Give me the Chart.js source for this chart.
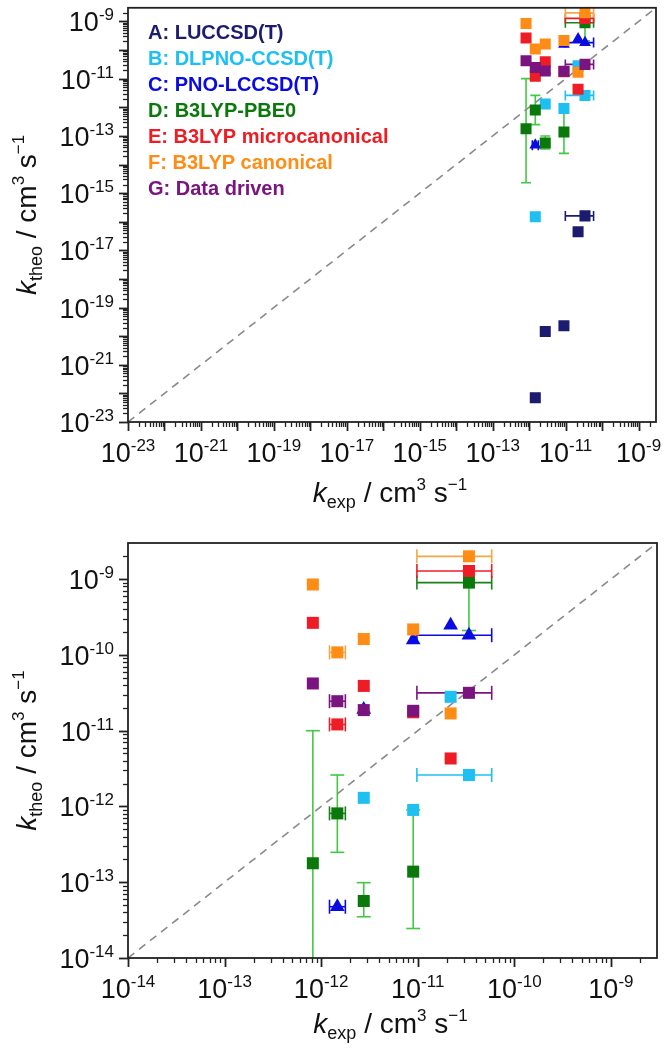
<!DOCTYPE html>
<html>
<head>
<meta charset="utf-8">
<script src="https://cdn.jsdelivr.net/npm/chart.js@4/dist/chart.umd.min.js"></script>
<style>
  html, body { margin: 0; padding: 0; background: #fff; }
  canvas { position: absolute; left: 0; }
  #c1 { top: 0; }
  #c2 { top: 530px; }
</style>
</head>
<body>
<canvas id="c1" width="666" height="530"></canvas>
<canvas id="c2" width="666" height="522"></canvas>
<script>
// experimental rate constants (one per reaction) and their ranges
const kexp     = [8.2e-13, 1.47e-12, 2.76e-12, 8.97e-12, 2.19e-11, 3.39e-11]
const kexpLow  = [null, 1.22e-12, null, null, null, 9.8e-12]
const kexpHigh = [null, 1.78e-12, null, null, null, 5.83e-11]

// theoretical rate constants per method (null = not computed)
const luccsd     = [null, 7e-23, 1.45e-20, 2.3e-20, 4.5e-17, 1.6e-16]
const dlpno      = [null, 1.5e-16, 1.3e-12, 9.0e-13, 2.8e-11, 2.6e-12]
const pnoLccsd   = [null, 4.75e-14, 1.9e-11, 1.57e-10, 2.47e-10, 1.82e-10]
const b3lypPbe0  = [1.78e-13, 8.1e-13, 5.65e-14, 1.38e-13, null, 9.0e-10]
const b3lypMicro = [2.65e-10, 1.21e-11, 3.9e-11, 1.75e-11, 4.3e-12, 1.28e-9]
const b3lypCanon = [8.5e-10, 1.08e-10, 1.62e-10, 2.17e-10, 1.69e-11, 2.0e-9]
const dataDriven = [4.2e-11, 2.45e-11, 1.87e-11, 1.83e-11, null, 3.16e-11]

// uncertainty of the B3LYP-PBE0 values
const pbe0Low  = [2.3e-15, 2.48e-13, 3.5e-14, 2.45e-14, null, 2.1e-10]
const pbe0High = [1.0e-11, 2.6e-12, 9.87e-14, 9.0e-13, null, null]

const seriesNames = ['A: LUCCSD(T)', 'B: DLPNO-CCSD(T)', 'C: PNO-LCCSD(T)', 'D: B3LYP-PBE0',
                     'E: B3LYP microcanonical', 'F: B3LYP canonical', 'G: Data driven']

// tick label exponents of both panels
const topTickExps    = [-23, -21, -19, -17, -15, -13, -11, -9]
const bottomTickExps = [-14, -13, -12, -11, -10, -9]

const colors   = ['#1b1b70', '#1ec0f2', '#0a0ae2', '#0b780b', '#ee1c24', '#ff8c14', '#7a1580']
const xBarCols = ['#1b1b70', '#1ec0f2', '#0a0ae2', '#1a801a', '#ee1c24', '#f2a846', '#7a1580']
const yBarCols = ['#1b1b70', '#1ec0f2', '#0a0ae2', '#44c844', '#ee1c24', '#f2a846', '#7a1580']
const styles   = ['rect', 'rect', 'triangle', 'rect', 'rect', 'rect', 'rect']

const FONT = '"Liberation Sans", Arial, sans-serif'

function buildDatasets(sq, tri, lo, hi) {
    const all = [luccsd, dlpno, pnoLccsd, b3lypPbe0, b3lypMicro, b3lypCanon, dataDriven]
    const sets = all.map((vals, s) => {
        let pts = []
        vals.forEach((v, i) => {
            if (v === null) return
            let p = { x: kexp[i], y: v, xl: kexpLow[i], xh: kexpHigh[i] }
            if (s === 3) { p.yl = pbe0Low[i]; p.yh = pbe0High[i] }
            pts.push(p)
        })
        return {
            type: 'scatter',
            label: seriesNames[s],
            data: pts,
            pointStyle: styles[s],
            pointRadius: s === 2 ? tri : sq,
            backgroundColor: colors[s],
            borderColor: colors[s],
            borderWidth: 0,
            order: 6 - s,
            xBar: xBarCols[s],
            yBar: yBarCols[s]
        }
    })
    // 1:1 line
    sets.push({
        type: 'line',
        data: [{ x: lo, y: lo }, { x: hi, y: hi }],
        borderColor: '#8a8a8a',
        borderDash: [8, 6],
        borderWidth: 1.6,
        pointRadius: 0,
        order: 20,
        isDiag: true
    })
    return sets
}

function richText(ctx, parts, x, y, rot) {
    ctx.save()
    ctx.translate(x, y)
    ctx.rotate(rot)
    ctx.textAlign = 'left'
    ctx.textBaseline = 'alphabetic'
    let w = 0
    parts.forEach(p => { ctx.font = p[1]; w += ctx.measureText(p[0]).width })
    let cx = -w / 2
    parts.forEach(p => {
        ctx.font = p[1]
        ctx.fillText(p[0], cx, p[2])
        cx += ctx.measureText(p[0]).width
    })
    ctx.restore()
}

function power(ctx, e, x, y, align) {
    const base = '10', ex = String(e)
    ctx.font = '27px ' + FONT
    const wb = ctx.measureText(base).width
    ctx.font = '17px ' + FONT
    const we = ctx.measureText(ex).width
    let x0 = align === 'center' ? x - (wb + we) / 2 : x - wb - we
    ctx.textAlign = 'left'
    ctx.textBaseline = 'alphabetic'
    ctx.font = '27px ' + FONT
    ctx.fillText(base, x0, y)
    ctx.font = '17px ' + FONT
    ctx.fillText(ex, x0 + wb, y - 11)
}

function title(sub) {
    return [
        ['k', 'italic 28px ' + FONT, 0],
        [sub, '18px ' + FONT, 6],
        [' / cm', '28px ' + FONT, 0],
        ['3', '17px ' + FONT, -12],
        [' s', '28px ' + FONT, 0],
        ['\u22121', '17px ' + FONT, -12]
    ]
}

const decor = {
    id: 'decor',
    beforeDatasetsDraw(chart, args, o) {
        const { ctx, chartArea: a, scales: { x, y } } = chart
        ctx.save()
        ctx.beginPath()
        ctx.rect(a.left, a.top, a.right - a.left, a.bottom - a.top)
        ctx.clip()
        ctx.lineWidth = 1.6
        const seg = (x1, y1, x2, y2) => { ctx.beginPath(); ctx.moveTo(x1, y1); ctx.lineTo(x2, y2); ctx.stroke() }
        chart.data.datasets.forEach(ds => {
            if (ds.isDiag) return
            ds.data.forEach(p => {
                const px = x.getPixelForValue(p.x), py = y.getPixelForValue(p.y)
                if (p.xl) {
                    ctx.strokeStyle = ds.xBar
                    const l = x.getPixelForValue(p.xl), h = x.getPixelForValue(p.xh)
                    seg(l, py, h, py)
                    seg(l, py - o.cap, l, py + o.cap)
                    seg(h, py - o.cap, h, py + o.cap)
                }
                ctx.strokeStyle = ds.yBar
                if (p.yl) {
                    const l = y.getPixelForValue(p.yl)
                    seg(px, py, px, l)
                    seg(px - o.cap, l, px + o.cap, l)
                }
                if (p.yh) {
                    const h = y.getPixelForValue(p.yh)
                    seg(px, py, px, h)
                    seg(px - o.cap, h, px + o.cap, h)
                }
            })
        })
        ctx.restore()
    },
    afterDraw(chart, args, o) {
        const { ctx, chartArea: a, scales: { x, y } } = chart
        ctx.save()
        ctx.strokeStyle = '#222'
        ctx.fillStyle = '#111'
        ctx.lineWidth = 1.8
        ctx.strokeRect(a.left, a.top, a.right - a.left, a.bottom - a.top)

        // ticks, outward, majors every decade
        const e0 = Math.round(Math.log10(o.lo)), e1 = Math.ceil(Math.log10(o.hi))
        for (let e = e0; e <= e1; e++) {
            for (let m = 1; m <= 9; m++) {
                const v = m * Math.pow(10, e)
                if (v > o.hi) continue
                const len = m === 1 ? 9 : 5
                ctx.lineWidth = m === 1 ? 1.8 : 1.3
                const px = Math.round(x.getPixelForValue(v)) + 0.5
                ctx.beginPath(); ctx.moveTo(px, a.bottom); ctx.lineTo(px, a.bottom + len); ctx.stroke()
                const py = Math.round(y.getPixelForValue(v)) + 0.5
                ctx.beginPath(); ctx.moveTo(a.left, py); ctx.lineTo(a.left - len, py); ctx.stroke()
            }
        }

        o.exps.forEach(e => {
            const v = Math.pow(10, e)
            power(ctx, e, x.getPixelForValue(v), a.bottom + 40, 'center')
            power(ctx, e, 114, y.getPixelForValue(v) + 10, 'right')
        })

        richText(ctx, title('exp'), (a.left + a.right) / 2 - 2, a.bottom + o.titleGap, 0)
        richText(ctx, title('theo'), 36, (a.top + a.bottom) / 2, -Math.PI / 2)

        if (o.legend) {
            ctx.font = 'bold 20px ' + FONT
            ctx.textAlign = 'left'
            ctx.textBaseline = 'alphabetic'
            seriesNames.forEach((n, i) => {
                ctx.fillStyle = colors[i]
                ctx.fillText(n, 148, 39 + i * 26)
            })
        }
        ctx.restore()
    }
}

function makeChart(id, lo, hi, exps, pad, sq, tri, cap, legend, titleGap) {
    const cfg = {
        data: { datasets: buildDatasets(sq, tri, lo, hi) },
        options: {
            responsive: false,
            animation: false,
            events: [],
            layout: { padding: pad },
            scales: {
                x: { type: 'logarithmic', min: lo, max: hi, display: false },
                y: { type: 'logarithmic', min: lo, max: hi, display: false }
            },
            plugins: {
                legend: { display: false },
                tooltip: { enabled: false },
                decor: { exps: exps, cap: cap, legend: legend, titleGap: titleGap, lo: lo, hi: hi }
            }
        },
        plugins: [decor]
    }
    return new Chart(document.getElementById(id), cfg)
}

makeChart('c1', 1e-23, 3e-9, topTickExps, { left: 128, right: 10, top: 5, bottom: 108 }, 7.8, 6.8, 5, true, 80)
makeChart('c2', 1e-14, 3e-9, bottomTickExps, { left: 128, right: 9, top: 13, bottom: 94 }, 8.5, 8.5, 7, false, 75)
</script>
</body>
</html>
